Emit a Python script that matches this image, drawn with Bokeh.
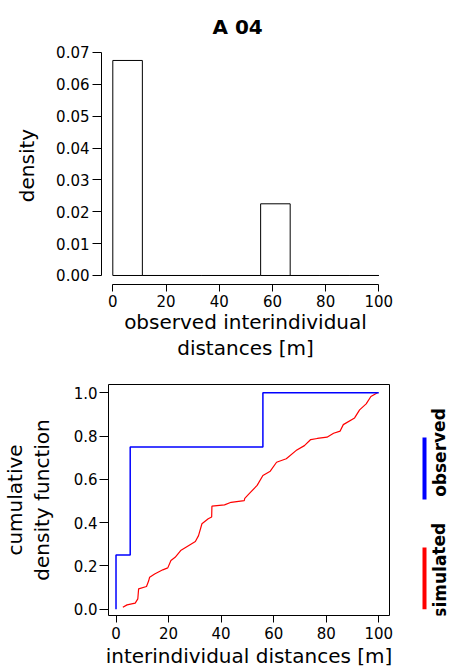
from bokeh.plotting import figure
from bokeh.models import Range1d, FixedTicker, PrintfTickFormatter
from bokeh.layouts import column, row
from bokeh.embed import file_html
from bokeh.resources import INLINE
from bokeh.core.properties import value

# ---------------- data ----------------
bin_edges = [0, 11.11, 22.22, 33.33, 44.44, 55.56, 66.67, 77.78, 88.89, 100]
hist_density = [0.0675, 0, 0, 0, 0, 0.0225, 0, 0, 0]
hist_yticks = [0.00, 0.01, 0.02, 0.03, 0.04, 0.05, 0.06, 0.07]
dist_ticks = [0, 20, 40, 60, 80, 100]
cdf_ticks = [0.0, 0.2, 0.4, 0.6, 0.8, 1.0]

obs_x = [0, 0, 5.4, 55.9, 100]
obs_y = [0, 0.25, 0.75, 1.0, 1.0]

sim_x = [2.6, 4.2, 7.3, 8.3, 8.6, 11.6, 12.4, 12.8, 14.7, 17.8, 19.7, 20.9, 22.5,
         24.6, 27.1, 30.2, 31.4, 32.7, 35.1, 36.4, 36.5, 41.3, 43.8, 48.8, 49.0,
         50.6, 53.7, 55.9, 58.7, 61.1, 64.8, 68.5, 71.7, 74.1, 76.6, 80.3, 82.8,
         85.3, 86.5, 90.8, 92.7, 95.2, 97.0, 99.5]
sim_y = [0.009, 0.02, 0.028, 0.048, 0.094, 0.105, 0.13, 0.148, 0.163, 0.182, 0.191,
         0.225, 0.24, 0.271, 0.29, 0.313, 0.34, 0.395, 0.418, 0.426, 0.476, 0.482,
         0.494, 0.502, 0.512, 0.533, 0.572, 0.618, 0.638, 0.679, 0.695, 0.733, 0.756,
         0.784, 0.789, 0.795, 0.813, 0.823, 0.853, 0.884, 0.921, 0.949, 0.983, 1.0]

legend_labels = ["observed", "simulated"]
legend_colors = ["blue", "red"]

FONT = "DejaVu Sans"
LABEL_SIZE = "20px"
TICK_SIZE = "15px"


def style_axes(p, xticks, yticks, yfmt):
    p.xgrid.grid_line_color = None
    p.ygrid.grid_line_color = None
    for ax in p.axis:
        ax.major_label_text_font = FONT
        ax.major_label_text_font_size = TICK_SIZE
        ax.major_label_text_color = "black"
        ax.axis_label_text_font = FONT
        ax.axis_label_text_font_size = LABEL_SIZE
        ax.axis_label_text_font_style = "normal"
        ax.axis_label_text_color = "black"
        ax.axis_line_color = "black"
        ax.major_tick_line_color = "black"
        ax.minor_tick_line_color = None
        ax.major_tick_in = 0
    p.xaxis.ticker = FixedTicker(ticks=xticks)
    p.yaxis.ticker = FixedTicker(ticks=yticks)
    p.yaxis.formatter = PrintfTickFormatter(format=yfmt)
    p.xaxis.major_tick_out = 7
    p.yaxis.major_tick_out = 9
    p.xaxis.bounds = (xticks[0], xticks[-1])
    p.yaxis.bounds = (yticks[0], yticks[-1])
    p.background_fill_color = "white"
    p.border_fill_color = "white"


# ---------------- top: histogram ----------------
p1 = figure(width=433, height=364, output_backend="svg", toolbar_location=None,
            x_range=Range1d(-4.25, 104.0), y_range=Range1d(-0.00283, 0.07188),
            min_border_left=101, min_border_right=44, min_border_top=46,
            min_border_bottom=80, title="A 04")
p1.title.text_font = FONT
p1.title.text_font_size = "20px"
p1.title.text_font_style = "bold"
p1.title.text_color = "black"
p1.title.align = "left"
p1.title.offset = 111
p1.title.standoff = 15
p1.outline_line_color = None
p1.quad(left=bin_edges[:-1], right=bin_edges[1:], bottom=0, top=hist_density,
        fill_color="white", line_color="black", line_width=1)
p1.xaxis.axis_label = "observed interindividual\ndistances [m]"
p1.yaxis.axis_label = "density"
style_axes(p1, dist_ticks, hist_yticks, "%.2f")
p1.xaxis.axis_label_text_line_height = 1.1
p1.xaxis.major_label_standoff = 3
p1.xaxis.axis_label_standoff = 0
p1.yaxis.major_label_standoff = 3
p1.yaxis.axis_label_standoff = 14

# ---------------- bottom: CDF ----------------
p2 = figure(width=395, height=307, output_backend="svg", toolbar_location=None,
            x_range=Range1d(-2.86, 104.08), y_range=Range1d(-0.0291, 1.0384),
            min_border_left=101, min_border_right=6, min_border_top=20,
            min_border_bottom=56)
p2.outline_line_color = "black"
p2.outline_line_width = 1
p2.line(sim_x, sim_y, line_color="red", line_width=1.2)
p2.step(obs_x, obs_y, mode="after", line_color="blue", line_width=1.5)
p2.xaxis.axis_label = "interindividual distances [m]"
p2.yaxis.axis_label = "cumulative\ndensity function"
style_axes(p2, dist_ticks, cdf_ticks, "%.1f")
p2.yaxis.axis_label_text_line_height = 1.1
p2.xaxis.major_label_standoff = 4
p2.xaxis.axis_label_standoff = 2
p2.yaxis.major_label_standoff = 2
p2.yaxis.axis_label_standoff = 17

# ---------------- legend panel (shares the CDF y scale) ----------------
p3 = figure(width=54, height=307, output_backend="svg", toolbar_location=None,
            x_range=Range1d(0, 54), y_range=p2.y_range,
            x_axis_type=None, y_axis_type=None,
            min_border_left=0, min_border_right=0, min_border_top=20,
            min_border_bottom=56)
p3.outline_line_color = None
p3.xgrid.grid_line_color = None
p3.ygrid.grid_line_color = None
p3.background_fill_color = "white"
p3.border_fill_color = "white"
seg_y0 = [0.507, 0.0]
seg_y1 = [0.793, 0.285]
txt_y = [0.724, 0.18]
p3.segment(x0=[29, 29], y0=seg_y0, x1=[29, 29], y1=seg_y1,
           line_color=legend_colors, line_width=4)
p3.text(x=[44, 44], y=txt_y, text=legend_labels, angle=1.5708,
        text_font=value(FONT), text_font_size="17px", text_font_style="bold",
        text_align="center", text_baseline="middle", text_color="black")

layout = column(p1, row(p2, p3, spacing=0), spacing=0)
open("out.html", "w").write(file_html(layout, INLINE))
